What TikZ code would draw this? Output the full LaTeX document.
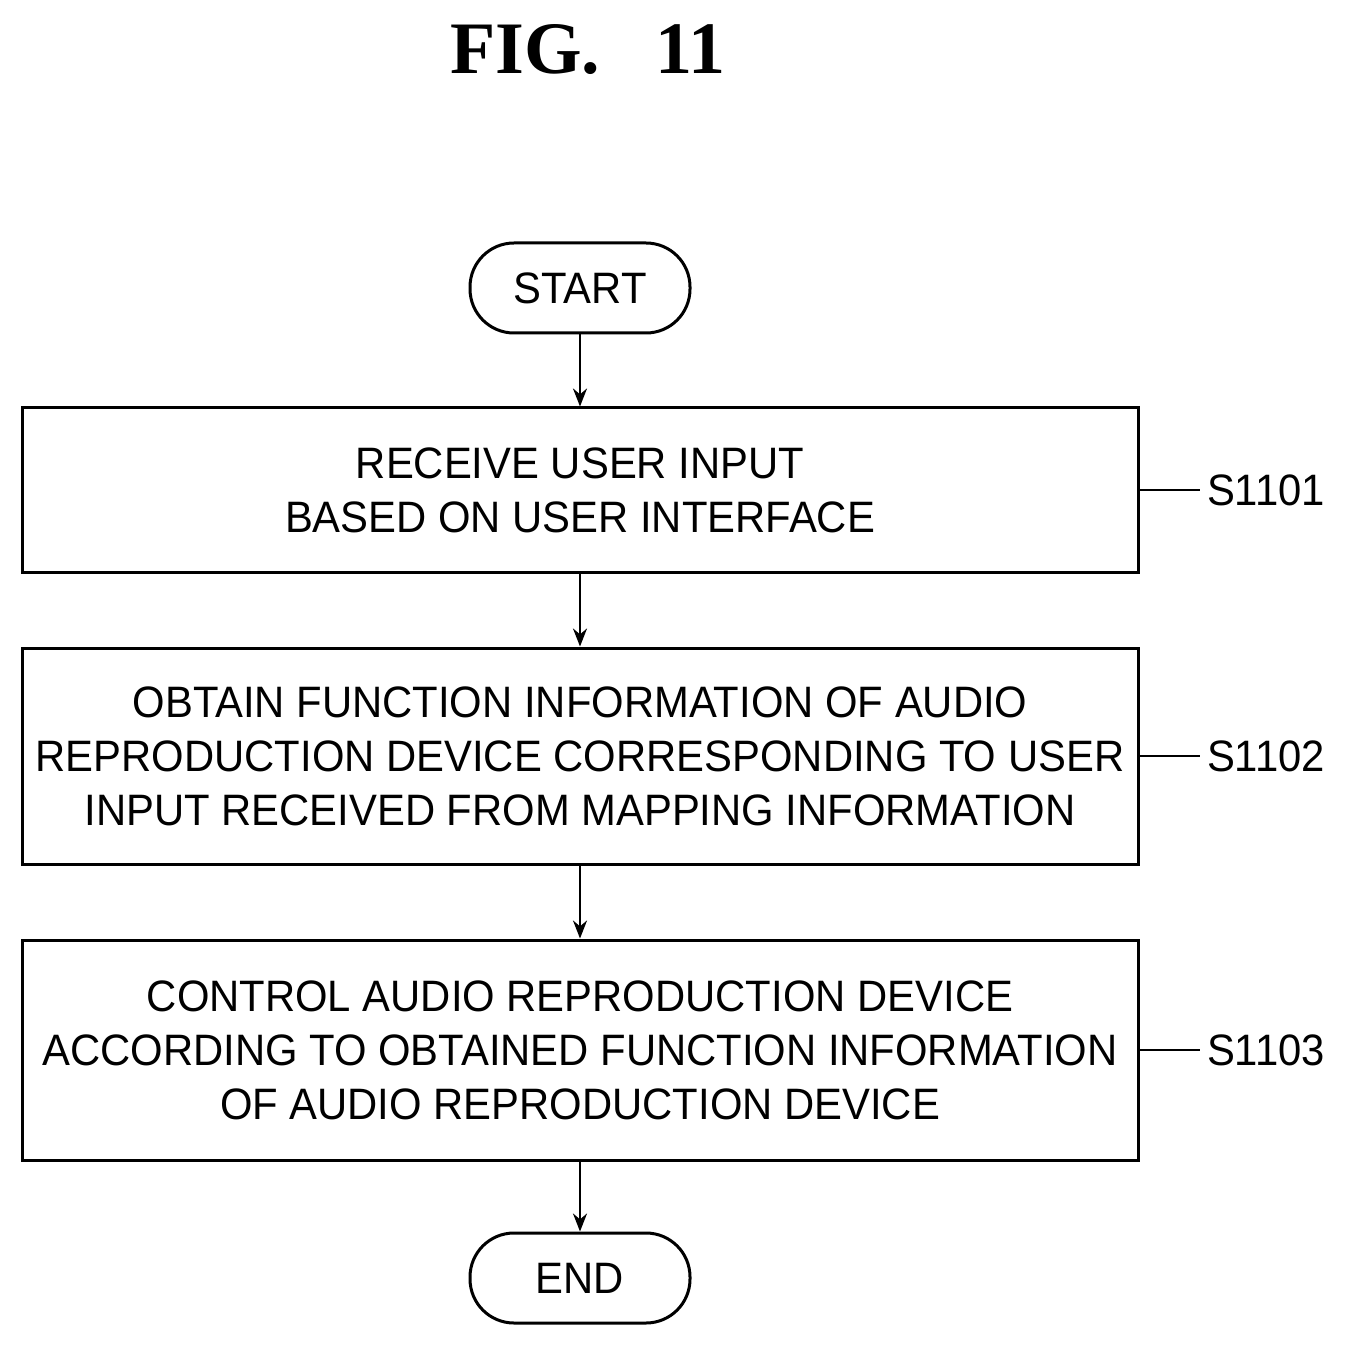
\documentclass[tikz,border=0pt]{standalone}
\usepackage{fontspec}
\setmainfont{Liberation Sans}[FakeStretch=0.95]
\newfontfamily\titlefont{Liberation Serif}
\usetikzlibrary{arrows.meta}
\begin{document}
\begin{tikzpicture}[x=0.5pt,y=-0.5pt,
  box/.style={draw,line width=1.5pt,minimum width=558pt,align=center,font=\fontsize{22}{27}\selectfont,inner sep=0pt},
  term/.style={draw,line width=1.5pt,rounded corners=22pt,minimum width=110pt,minimum height=45pt,font=\fontsize{22}{27}\selectfont},
  arr/.style={line width=1.2pt,-{Stealth[length=9pt,width=7pt]}},
  lab/.style={font=\fontsize{22}{27}\selectfont,anchor=west}]
\useasboundingbox (0,0) rectangle (1352,1347);
\node[font=\titlefont\bfseries\fontsize{37}{42}\selectfont] (title) at (588,50) {FIG.\ \ \ 11};
\node[term] (start) at (580,288) {START};
\node[box,minimum height=82pt] (b1) at (580,490) {RECEIVE USER INPUT\\BASED ON USER INTERFACE};
\node[box,minimum height=108pt] (b2) at (580,756) {OBTAIN FUNCTION INFORMATION OF AUDIO\\REPRODUCTION DEVICE CORRESPONDING TO USER\\INPUT RECEIVED FROM MAPPING INFORMATION};
\node[box,minimum height=110pt] (b3) at (580,1050) {CONTROL AUDIO REPRODUCTION DEVICE\\ACCORDING TO OBTAINED FUNCTION INFORMATION\\OF AUDIO REPRODUCTION DEVICE};
\node[term] (end) at (580,1278) {END};
\draw[arr] (start) -- (b1);
\draw[arr] (b1) -- (b2);
\draw[arr] (b2) -- (b3);
\draw[arr] (b3) -- (end);
\node[lab] (l1) at (1200,490) {S1101};
\node[lab] (l2) at (1200,756) {S1102};
\node[lab] (l3) at (1200,1050) {S1103};
\foreach \b/\l in {b1/l1,b2/l2,b3/l3}
  \draw[line width=1pt] (\b.east) .. controls ([xshift=20pt]\b.east) and ([xshift=-12pt]\l.west) .. (\l.west);
\end{tikzpicture}
\end{document}
